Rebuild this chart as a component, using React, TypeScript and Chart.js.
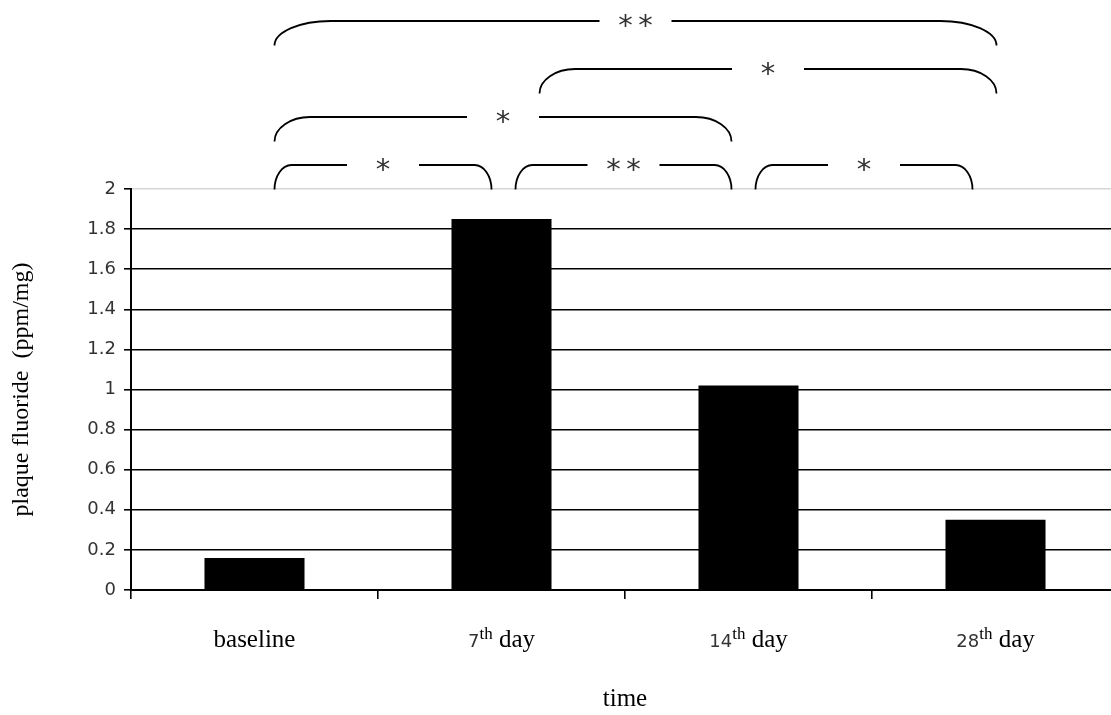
import { useEffect, useRef } from "react";
import { Chart, registerables } from "chart.js";

Chart.register(...registerables);

// ---- data ----
const categories = ["baseline", "7th day", "14th day", "28th day"];
const plaqueFluoride = [0.16, 1.85, 1.02, 0.35];
const yTickLabels = ["0", "0.2", "0.4", "0.6", "0.8", "1", "1.2", "1.4", "1.6", "1.8", "2"];
const xTitle = "time";
const yTitle = "plaque fluoride  (ppm/mg)";

// significance brackets between categories (from, to, stacking level, label)
const bracketFrom = [0, 1, 2, 0, 1, 0];
const bracketTo = [1, 2, 3, 2, 3, 3];
const bracketLevel = [0, 0, 0, 1, 2, 3];
const bracketLabel = ["*", "**", "*", "*", "*", "**"];

// ---- styling (end insets of brackets relative to category centres, px) ----
const bracketInsetStart = [20, 14, 7, 20, 38, 20];
const bracketInsetEnd = [-10, -17, -23, -17, 1, 1];

const SANS = '"DejaVu Sans", sans-serif';
const SERIF = '"Liberation Serif", "Times New Roman", serif';

function drawStars(ctx: CanvasRenderingContext2D, cx: number, cy: number, label: string) {
  ctx.font = `29px ${SANS}`;
  ctx.textAlign = "center";
  ctx.textBaseline = "alphabetic";
  const m = ctx.measureText("*");
  const off = (m.actualBoundingBoxAscent - m.actualBoundingBoxDescent) / 2;
  const n = label.length;
  for (let i = 0; i < n; i++) {
    const x = cx + (i - (n - 1) / 2) * 20;
    ctx.fillText("*", x, cy + off);
  }
}

const bracketPlugin = {
  id: "sigBrackets",
  afterDraw(chart: any) {
    const { ctx, chartArea } = chart;
    const xs = chart.scales.x;
    ctx.save();
    ctx.strokeStyle = "#000";
    ctx.fillStyle = "#333";
    ctx.lineWidth = 1.8;
    for (let k = 0; k < bracketFrom.length; k++) {
      const x1 = xs.getPixelForValue(bracketFrom[k]) + bracketInsetStart[k];
      const x2 = xs.getPixelForValue(bracketTo[k]) + bracketInsetEnd[k];
      const yTop = chartArea.top - 24 - 48 * bracketLevel[k];
      const h = 24.5;
      const yBot = yTop + h;
      const len = x2 - x1;
      const r = Math.max(16, 0.078 * len);
      const cx = (x1 + x2) / 2;
      const gap = 36;
      ctx.beginPath();
      ctx.ellipse(x1 + r, yBot, r, h, 0, Math.PI, 1.5 * Math.PI);
      ctx.lineTo(cx - gap, yTop);
      ctx.moveTo(cx + gap, yTop);
      ctx.lineTo(x2 - r, yTop);
      ctx.ellipse(x2 - r, yBot, r, h, 0, 1.5 * Math.PI, 2 * Math.PI);
      ctx.stroke();
      drawStars(ctx, cx, yTop, bracketLabel[k]);
    }
    ctx.restore();
  },
};

const xLabelPlugin = {
  id: "xLabels",
  afterDraw(chart: any) {
    const { ctx, chartArea } = chart;
    const xs = chart.scales.x;
    ctx.save();
    ctx.fillStyle = "#000";
    ctx.textBaseline = "alphabetic";
    ctx.textAlign = "left";
    const baseY = chartArea.bottom + 57;
    categories.forEach((cat, i) => {
      const cx = xs.getPixelForValue(i);
      const m = cat.match(/^(\d+)(st|nd|rd|th)(.*)$/);
      const parts = m
        ? [
            { t: m[1], f: `18px ${SANS}`, dy: 0, c: "#333" },
            { t: m[2], f: `17px ${SERIF}`, dy: -8, c: "#000" },
            { t: m[3], f: `25px ${SERIF}`, dy: 0, c: "#000" },
          ]
        : [{ t: cat, f: `25px ${SERIF}`, dy: 0, c: "#000" }];
      let total = 0;
      const widths = parts.map((p) => {
        ctx.font = p.f;
        const w = ctx.measureText(p.t).width;
        total += w;
        return w;
      });
      let x = cx - total / 2;
      parts.forEach((p, j) => {
        ctx.font = p.f;
        ctx.fillStyle = p.c;
        ctx.fillText(p.t, x, baseY + p.dy);
        x += widths[j];
      });
    });
    ctx.restore();
  },
};

export default function App() {
  const ref = useRef<HTMLCanvasElement | null>(null);
  useEffect(() => {
    if (!ref.current) return;
    const chart = new Chart(ref.current, {
      type: "bar",
      data: {
        labels: categories,
        datasets: [
          {
            data: plaqueFluoride,
            backgroundColor: "#000",
            borderWidth: 0,
            barPercentage: 0.405,
            categoryPercentage: 1,
          },
        ],
      },
      options: {
        responsive: false,
        animation: false,
        devicePixelRatio: 1,
        layout: { padding: { top: 189, left: 0, right: 0, bottom: 0 } },
        plugins: { legend: { display: false }, tooltip: { enabled: false } },
        scales: {
          x: {
            offset: true,
            grid: {
              offset: true,
              drawOnChartArea: false,
              drawTicks: true,
              tickLength: 9,
              tickColor: "#000",
              lineWidth: 1.6,
            },
            border: { color: "#000", width: 2 },
            ticks: { display: false },
            title: {
              display: true,
              text: xTitle,
              font: { family: SERIF, size: 25 },
              color: "#000",
              padding: { top: 0, bottom: 1 },
            },
            afterFit: (s: any) => {
              s.height = 125;
            },
          },
          y: {
            min: 0,
            max: 2,
            ticks: {
              stepSize: 0.2,
              padding: 8,
              color: "#333",
              font: { family: SANS, size: 18 },
              callback: (_v: any, i: number) => yTickLabels[i],
            },
            grid: {
              color: (c: any) => (c.tick && Math.abs(c.tick.value - 2) < 1e-6 ? "#d6d6d6" : "#000"),
              lineWidth: 1.6,
              tickLength: 7,
              tickColor: "#000",
            },
            border: { color: "#000", width: 2 },
            title: {
              display: true,
              text: yTitle,
              font: { family: SERIF, size: 24 },
              color: "#000",
              padding: { top: 7, bottom: 0 },
            },
            afterFit: (s: any) => {
              s.width = 131;
            },
          },
        },
      },
      plugins: [bracketPlugin, xLabelPlugin],
    });
    return () => chart.destroy();
  }, []);
  return (
    <div
      style={{
        position: "absolute",
        left: 0,
        top: 0,
        width: 1111,
        height: 715,
        overflow: "hidden",
        background: "#fff",
      }}
    >
      <canvas ref={ref} width={1119} height={715} style={{ width: 1119, height: 715, display: "block" }} />
    </div>
  );
}
